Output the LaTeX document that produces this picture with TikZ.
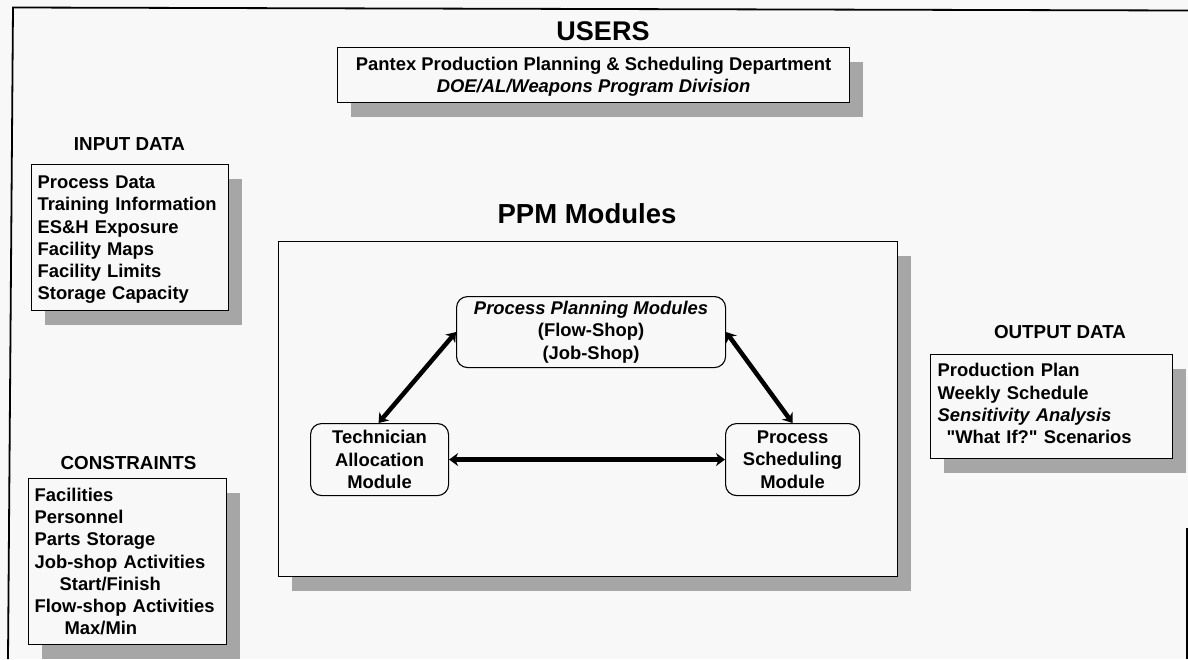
\documentclass[tikz,border=0pt]{standalone}
\usepackage{fontspec}
\setmainfont{Liberation Sans}
\newfontfamily\rawfont{Liberation Sans}
\usetikzlibrary{shadows,arrows.meta,calc}
\definecolor{paper}{HTML}{F8F8F8}
\definecolor{shade}{HTML}{A6A6A6}
\tikzset{
  x=1pt,y=-1pt,
  txt/.style={font=\fontsize{18.4}{22.3}\bfseries\selectfont,text=black},
  heading/.style={font=\fontsize{18.8}{22}\bfseries\selectfont,text=black,inner sep=0pt},
  bigtitle/.style={font=\fontsize{27}{30}\bfseries\selectfont,text=black,inner sep=0pt},
  panel/.style={draw=black,line width=1.2pt,fill=paper,inner sep=0pt,
    general shadow={shadow xshift=13.5pt,shadow yshift=-14pt,fill=shade,draw=none}},
  listbox/.style={panel,txt,align=left,anchor=north west},
  module/.style={draw=black,line width=1.1pt,fill=paper,rounded corners=11pt,txt,align=center,inner sep=0pt,anchor=north west},
  link/.style={line width=4.5pt,{Stealth[length=9pt,width=13pt]}-{Stealth[length=9pt,width=13pt]}},
  frameline/.style={draw=black,line width=1.8pt}
}
\begin{document}
\begin{tikzpicture}
\useasboundingbox[fill=paper] (0,0) rectangle (1188,659);
% outer frame, open at the bottom
\coordinate (fa) at (8,659);
\coordinate (fb) at (13,7.5);
\coordinate (fc) at (1188,10.5);
\draw[frameline] (fa) -- (fb) -- (fc);
\coordinate (fd) at (1187,528);
\coordinate (fe) at (1187,659);
\draw[draw=black,line width=1.2pt] (fd) -- (fe);
% headings
\node[bigtitle] (usersT) at (603,31) {USERS};
\node[heading] (inT) at (129.5,144.5) {INPUT DATA};
\node[heading] (conT) at (128.5,463) {CONSTRAINTS};
\node[heading] (outT) at (1060,332.5) {OUTPUT DATA};
\node[bigtitle,font=\fontsize{27.5}{30}\bfseries\selectfont] (ppmT) at (587,214) {PPM Modules};
% users
\node[panel,txt,align=center,minimum width=512pt,minimum height=55pt,anchor=north west] (users) at (337,47)
  {\rule{0pt}{17pt}Pantex Production Planning \& Scheduling Department\\{\itshape DOE/AL/Weapons Program Division}};
% input
\node[listbox,minimum width=197pt,minimum height=146pt,text width=189pt,inner xsep=4pt] (input) at (31,164)
  {\rule{0pt}{17pt}\hspace*{2pt}Process Data\\\hspace*{2pt}Training Information\\\hspace*{2pt}ES\&H Exposure\\\hspace*{2pt}Facility Maps\\\hspace*{2pt}Facility Limits\\\hspace*{2pt}Storage Capacity};
% constraints
\node[listbox,minimum width=198pt,minimum height=166pt,text width=190pt,inner xsep=4pt] (cons) at (28,478)
  {\hspace*{2pt}Facilities\\\hspace*{2pt}Personnel\\\hspace*{2pt}Parts Storage\\\hspace*{2pt}Job-shop Activities\\\hspace*{27pt}Start/Finish\\\hspace*{2pt}Flow-shop Activities\\\hspace*{32pt}Max/Min};
% output
\node[listbox,minimum width=242pt,minimum height=104pt,text width=234pt,inner xsep=4pt] (output) at (930,354)
  {\hspace*{3pt}Production Plan\\\hspace*{3pt}Weekly Schedule\\\hspace*{3pt}{\itshape Sensitivity Analysis}\\\hspace*{12pt}{\rawfont\bfseries "What If?" Scenarios}\rule[-6pt]{0pt}{0pt}};
% PPM panel
\node[panel,minimum width=619pt,minimum height=335pt,anchor=north west] (ppm) at (278,241) {};
% modules
\node[module,minimum width=269pt,minimum height=71pt] (plan) at (456,296)
  {{\itshape Process Planning Modules}\\(Flow-Shop)\\(Job-Shop)};
\node[module,minimum width=138pt,minimum height=72pt] (tech) at (310,423)
  {Technician\\Allocation\\Module};
\node[module,minimum width=134pt,minimum height=72pt] (sched) at (725,423)
  {Process\\Scheduling\\Module};
% links
\coordinate (ta) at ($(tech.north)+(-1,0)$);
\draw[link] (tech.east) -- (sched.west);
\draw[link] (ta) -- (plan.west);
\draw[link] (plan.east) -- (sched.north);
\end{tikzpicture}
\end{document}
